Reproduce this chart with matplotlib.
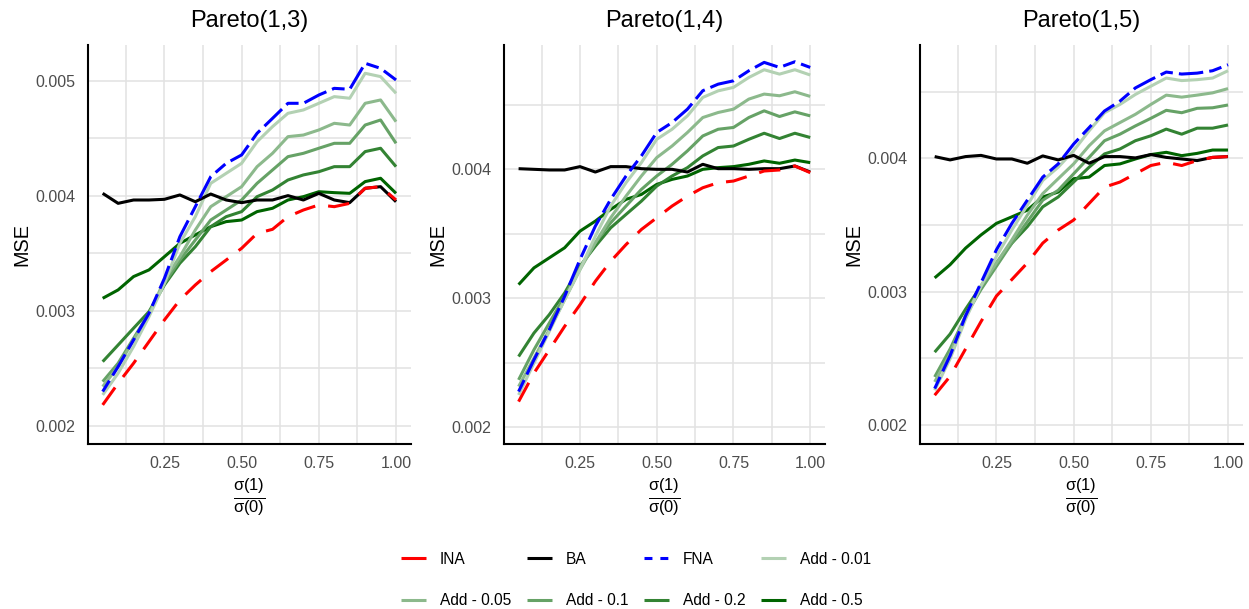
import matplotlib
matplotlib.use("Agg")
import matplotlib.pyplot as plt
from matplotlib.lines import Line2D
import numpy as np

plt.rcParams['font.family'] = ['Liberation Sans', 'DejaVu Sans']
plt.rcParams['mathtext.fontset'] = 'custom'
plt.rcParams['mathtext.rm'] = 'Liberation Sans'
plt.rcParams['mathtext.it'] = 'Liberation Sans:italic'

ratio = [0.05, 0.10, 0.15, 0.20, 0.25, 0.30, 0.35, 0.40, 0.45, 0.50,
         0.55, 0.60, 0.65, 0.70, 0.75, 0.80, 0.85, 0.90, 0.95, 1.00]
titles = ["Pareto(1,3)", "Pareto(1,4)", "Pareto(1,5)"]
series_names = ["INA", "BA", "FNA", "Add - 0.01", "Add - 0.05", "Add - 0.1", "Add - 0.2", "Add - 0.5"]
x_ticks = [0.25, 0.50, 0.75, 1.00]
x_ticklabels = ["0.25", "0.50", "0.75", "1.00"]

# Pareto(1,3)
ina_3 = [0.002183, 0.002371, 0.002545, 0.002733, 0.002922, 0.003096, 0.003226, 0.003342, 0.003443, 0.003545,
         0.003675, 0.00371, 0.00382, 0.003878, 0.003922, 0.003907, 0.003936, 0.004067, 0.004081, 0.003965]
ba_3 = [0.004023, 0.003936, 0.003965, 0.003965, 0.003971, 0.004009, 0.00395, 0.004017, 0.003965, 0.003942,
        0.003965, 0.003965, 0.004003, 0.003965, 0.004023, 0.003965, 0.003942, 0.004067, 0.004081, 0.00395]
fna_3 = [0.002299, 0.002516, 0.002748, 0.00298, 0.003284, 0.003646, 0.003907, 0.004168, 0.004284, 0.004357,
         0.004545, 0.004675, 0.004806, 0.004806, 0.004878, 0.004936, 0.004928, 0.005154, 0.00511, 0.005009]
add001_3 = [0.00227, 0.002458, 0.00269, 0.00295, 0.00324, 0.003588, 0.00382, 0.00411, 0.004197, 0.004284,
            0.004472, 0.004603, 0.004719, 0.004748, 0.004806, 0.004864, 0.00485, 0.005067, 0.005038, 0.004893]
add005_3 = [0.002342, 0.002516, 0.002748, 0.002965, 0.00327, 0.003472, 0.003704, 0.003907, 0.003994, 0.004081,
            0.004255, 0.004371, 0.004516, 0.00453, 0.004574, 0.004632, 0.004617, 0.004806, 0.004835, 0.004646]
add01_3 = [0.002385, 0.002545, 0.002762, 0.00298, 0.00324, 0.003443, 0.003617, 0.003791, 0.003878, 0.003965,
           0.00411, 0.004226, 0.004342, 0.004371, 0.004415, 0.004458, 0.004458, 0.004617, 0.004661, 0.004458]
add02_3 = [0.002559, 0.002704, 0.00285, 0.002994, 0.003226, 0.003415, 0.003559, 0.003733, 0.00382, 0.003864,
           0.003994, 0.004052, 0.004139, 0.004183, 0.004211, 0.004255, 0.004255, 0.004386, 0.004415, 0.004255]
add05_3 = [0.00311, 0.003183, 0.003299, 0.003357, 0.003472, 0.003588, 0.003661, 0.003733, 0.003777, 0.003791,
           0.003864, 0.003893, 0.003965, 0.003994, 0.004037, 0.004029, 0.004023, 0.004125, 0.004154, 0.004023]

# Pareto(1,4)
ina_4 = [0.002197, 0.002418, 0.002599, 0.002781, 0.002949, 0.003131, 0.003286, 0.003416, 0.003533, 0.003624,
         0.003715, 0.003792, 0.003857, 0.003896, 0.003909, 0.003948, 0.003987, 0.003995, 0.004026, 0.003974]
ba_4 = [0.004005, 0.0040, 0.003995, 0.003995, 0.004021, 0.003979, 0.004021, 0.004021, 0.004005, 0.0040,
        0.0040, 0.003979, 0.004039, 0.004005, 0.004005, 0.0040, 0.004005, 0.004005, 0.004026, 0.003979]
fna_4 = [0.002275, 0.002521, 0.002755, 0.003014, 0.0033, 0.003559, 0.003767, 0.003948, 0.004104, 0.004286,
         0.004363, 0.004467, 0.00461, 0.004661, 0.004687, 0.004765, 0.00483, 0.004791, 0.004835, 0.004791]
add001_4 = [0.002249, 0.002495, 0.002742, 0.002988, 0.003222, 0.003481, 0.003715, 0.003896, 0.004052, 0.004233,
            0.004311, 0.004415, 0.004558, 0.004609, 0.004636, 0.004713, 0.004773, 0.004739, 0.004773, 0.004732]
add005_4 = [0.002314, 0.002534, 0.002755, 0.002988, 0.003222, 0.00343, 0.003624, 0.003792, 0.003948, 0.004091,
            0.004181, 0.004286, 0.004402, 0.004441, 0.004467, 0.004545, 0.004584, 0.004571, 0.004602, 0.004566]
add01_4 = [0.002366, 0.002599, 0.002807, 0.003014, 0.003235, 0.00343, 0.003585, 0.003715, 0.003844, 0.003948,
           0.004039, 0.004143, 0.004259, 0.004311, 0.004325, 0.004402, 0.004454, 0.00441, 0.004446, 0.004415]
add02_4 = [0.002547, 0.002729, 0.002872, 0.00304, 0.003248, 0.003403, 0.003546, 0.00365, 0.003753, 0.00387,
           0.003948, 0.004013, 0.004104, 0.004169, 0.004181, 0.004233, 0.00428, 0.004239, 0.00428, 0.004247]
add05_4 = [0.003105, 0.003235, 0.003313, 0.003391, 0.00352, 0.003598, 0.003689, 0.003767, 0.003805, 0.003883,
           0.003922, 0.003948, 0.0040, 0.004013, 0.004021, 0.004039, 0.004065, 0.004047, 0.004072, 0.004052]

# Pareto(1,5)
ina_5 = [0.002223, 0.002365, 0.00257, 0.002775, 0.002967, 0.003091, 0.003215, 0.003364, 0.003462, 0.003537,
         0.003661, 0.003784, 0.003822, 0.003884, 0.003946, 0.00397, 0.003946, 0.003983, 0.004007, 0.004013]
ba_5 = [0.004013, 0.003988, 0.004013, 0.004022, 0.003995, 0.003995, 0.003963, 0.004018, 0.003988, 0.004022,
        0.003963, 0.004013, 0.004013, 0.004003, 0.004028, 0.004007, 0.003995, 0.003983, 0.004007, 0.004013]
fna_5 = [0.002273, 0.00252, 0.002818, 0.003066, 0.003314, 0.003512, 0.003686, 0.003859, 0.003958, 0.004107,
         0.00423, 0.004355, 0.004429, 0.004528, 0.00459, 0.004647, 0.004632, 0.004639, 0.004657, 0.004702]
add001_5 = [0.00226, 0.002496, 0.002793, 0.003041, 0.003264, 0.003462, 0.003648, 0.003834, 0.003933, 0.004057,
            0.004206, 0.004342, 0.004404, 0.004479, 0.004541, 0.004602, 0.004583, 0.00459, 0.004602, 0.004657]
add005_5 = [0.002323, 0.002533, 0.002818, 0.003041, 0.003215, 0.003388, 0.003574, 0.003735, 0.003847, 0.003958,
            0.004094, 0.004206, 0.004268, 0.00433, 0.004404, 0.004474, 0.004459, 0.004474, 0.004491, 0.004523]
add01_5 = [0.00236, 0.00257, 0.002818, 0.003016, 0.00319, 0.003364, 0.003524, 0.003686, 0.00376, 0.003884,
           0.004007, 0.004132, 0.004181, 0.004243, 0.0043, 0.00436, 0.004342, 0.004375, 0.004379, 0.0044]
add02_5 = [0.002546, 0.002682, 0.002868, 0.003041, 0.003215, 0.003364, 0.003487, 0.003636, 0.00371, 0.003822,
           0.003933, 0.004033, 0.00407, 0.004132, 0.004169, 0.004219, 0.004181, 0.004226, 0.004226, 0.00425]
add05_5 = [0.003103, 0.003202, 0.003326, 0.003425, 0.003512, 0.003561, 0.003611, 0.00371, 0.003747, 0.003847,
           0.003859, 0.003946, 0.003958, 0.003995, 0.004028, 0.004045, 0.00402, 0.004037, 0.004062, 0.004062]

panels = [
    [ina_3, ba_3, fna_3, add001_3, add005_3, add01_3, add02_3, add05_3],
    [ina_4, ba_4, fna_4, add001_4, add005_4, add01_4, add02_4, add05_4],
    [ina_5, ba_5, fna_5, add001_5, add005_5, add01_5, add02_5, add05_5],
]
y_limits = [(0.001843, 0.005313), (0.001868, 0.004965), (0.001857, 0.00485)]
y_major = [[0.002, 0.003, 0.004, 0.005], [0.002, 0.003, 0.004], [0.002, 0.003, 0.004]]
y_minor = [[0.0025, 0.0035, 0.0045], [0.0025, 0.0035, 0.0045], [0.0025, 0.0035, 0.0045]]

colors = ["#FF0000", "#000000", "#0000FF", "#B3D1B3", "#8CB98C", "#66A266", "#338333", "#006400"]
LW = 2.2
styles = [(0, (7.0, 4.3)), "solid", (0, (4.2, 2.0, 8.0, 2.0)), "solid", "solid", "solid", "solid", "solid"]
legend_styles = ["solid", "solid", (0, (2.6, 2.6)), "solid", "solid", "solid", "solid", "solid"]
draw_order = [7, 6, 5, 4, 3, 1, 0, 2]

fig = plt.figure(figsize=(12.49, 6.09), dpi=100)
W, H = 1249, 609
axes_px = [(88, 410.7), (504, 824.8), (920, 1242.7)]
top_px, bot_px = 45, 444

grid_col = "#E2E2E2"
for p, (l, r) in enumerate(axes_px):
    ax = fig.add_axes([l / W, 1 - bot_px / H, (r - l) / W, (bot_px - top_px) / H])
    ax.set_xlim(0.0025, 1.0475)
    ax.set_ylim(*y_limits[p])
    ax.set_xticks(x_ticks)
    ax.set_xticklabels(x_ticklabels)
    ax.set_xticks([0.125, 0.375, 0.625, 0.875], minor=True)
    ax.set_yticks(y_major[p])
    ax.set_yticklabels([f"{v:.3f}" for v in y_major[p]])
    ax.set_yticks(y_minor[p], minor=True)
    ax.grid(True, which='both', color=grid_col, linewidth=1.1)
    ax.set_axisbelow(True)
    ax.tick_params(which='both', length=0, labelsize=11.5, labelcolor="#4D4D4D")
    ax.tick_params(axis='x', pad=9)
    ax.tick_params(axis='y', pad=9)
    for s in ['top', 'right']:
        ax.spines[s].set_visible(False)
    for s in ['left', 'bottom']:
        ax.spines[s].set_color('black')
        ax.spines[s].set_linewidth(1.5)
    data = panels[p]
    for i in draw_order:
        ax.plot(ratio, data[i], color=colors[i], linewidth=LW, linestyle=styles[i],
                solid_capstyle='butt', dash_capstyle='butt')
    ax.set_title(titles[p], fontsize=17, pad=13)
    ax.set_ylabel("MSE", fontsize=14.3, labelpad=3)
    ax.set_xlabel(r"$\frac{\mathrm{\sigma(1)}}{\mathrm{\sigma(0)}}$", fontsize=17, labelpad=4)

# legend keys (row-wise order with 4 columns)
handles = [Line2D([], [], color=colors[i], linewidth=LW, linestyle=legend_styles[i],
                  solid_capstyle='butt', dash_capstyle='butt') for i in range(8)]
order = [0, 4, 1, 5, 2, 6, 3, 7]
fig.legend([handles[i] for i in order], [series_names[i] for i in order],
           ncol=4, loc='center', bbox_to_anchor=(636 / W, 1 - 580 / H),
           frameon=False, fontsize=11.2, handlelength=1.6, handletextpad=0.9,
           columnspacing=1.0, labelspacing=1.7)

fig.savefig("out.png", dpi=100)
